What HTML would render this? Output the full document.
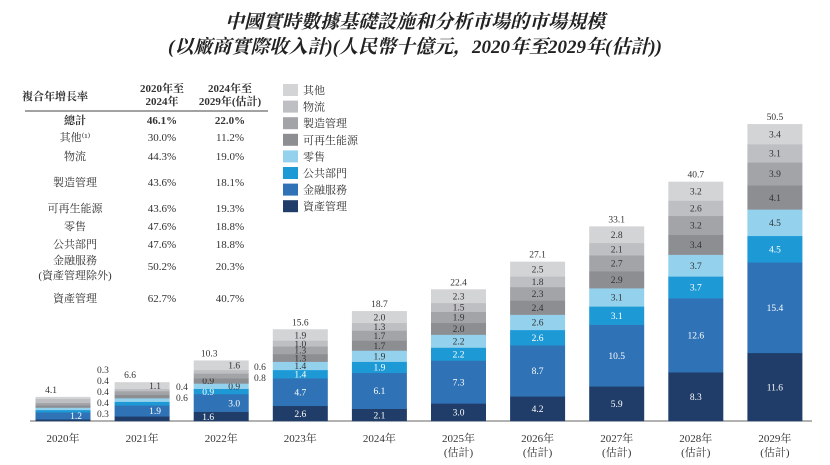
<!DOCTYPE html>
<html><head><meta charset="utf-8"><style>
body{margin:0;background:#fff;width:830px;height:465px;overflow:hidden}
svg{display:block}
text{font-family:"Liberation Serif","Noto Serif CJK SC","Noto Sans CJK TC",serif}
</style></head><body>
<svg id="s" width="830" height="465" xmlns="http://www.w3.org/2000/svg">
<text x="415" y="28" text-anchor="middle" font-size="19" font-weight="bold" font-style="italic" fill="#222">中國實時數據基礎設施和分析市場的市場規模</text>
<text x="415" y="53" text-anchor="middle" font-size="19" font-weight="bold" font-style="italic" fill="#222">(以廠商實際收入計)(人民幣十億元，2020年至2029年(估計))</text>
<g font-size="11" fill="#333">
<text x="55" y="100" text-anchor="middle" font-weight="bold">複合年增長率</text>
<text x="162" y="92" text-anchor="middle" font-weight="bold">2020年至</text>
<text x="162" y="105" text-anchor="middle" font-weight="bold">2024年</text>
<text x="230" y="92" text-anchor="middle" font-weight="bold">2024年至</text>
<text x="230" y="105" text-anchor="middle" font-weight="bold">2029年(估計)</text>
<line x1="25" y1="111" x2="268" y2="111" stroke="#444" stroke-width="1"/>
</g>
<g id="tbl" font-size="11" fill="#333"></g>
<g id="leg" font-size="11" fill="#333"></g>
<line x1="30" y1="421" x2="812" y2="421" stroke="#666" stroke-width="1"/>
<g id="bars"></g>
</svg>
<script>
const NS="http://www.w3.org/2000/svg";
function el(p,t,a,txt){const e=document.createElementNS(NS,t);for(const k in a)e.setAttribute(k,a[k]);if(txt!=null)e.textContent=txt;p.appendChild(e);return e;}
const tb=document.getElementById('tbl');
const rows=[["總計","46.1%","22.0%",124,1],["其他⁽¹⁾","30.0%","11.2%",141],["物流","44.3%","19.0%",160],["製造管理","43.6%","18.1%",186],["可再生能源","43.6%","19.3%",212],["零售","47.6%","18.8%",230],["公共部門","47.6%","18.8%",248],["金融服務","50.2%","20.3%",270],["資產管理","62.7%","40.7%",302]];
rows.forEach(r=>{const fw=r[4]?"bold":"normal";
 if(r[0]=="金融服務"){el(tb,'text',{x:75,y:264,'text-anchor':'middle'},"金融服務");el(tb,'text',{x:75,y:279,'text-anchor':'middle'},"(資產管理除外)");}
 else el(tb,'text',{x:75,y:r[3],'text-anchor':'middle','font-weight':fw},r[0]);
 el(tb,'text',{x:162,y:r[3],'text-anchor':'middle','font-weight':fw},r[1]);
 el(tb,'text',{x:230,y:r[3],'text-anchor':'middle','font-weight':fw},r[2]);});
const cols=["#1f3d68","#2f72b6","#1d9ad6","#93d1ec","#8d8e92","#a3a4a8","#bebfc2","#d3d4d6"];
const names=["資產管理","金融服務","公共部門","零售","可再生能源","製造管理","物流","其他"];
const lg=document.getElementById('leg');
for(let i=0;i<8;i++){const y=84+(7-i)*16.6;el(lg,'rect',{x:283,y:y,width:15,height:12,fill:cols[i]});el(lg,'text',{x:303,y:y+10},names[i]);}
const data=[[0.3,1.2,0.4,0.4,0.4,0.4,0.7,0.3],[0.8,1.9,0.6,0.6,0.6,0.6,0.4,1.1],[1.6,3.0,0.9,0.9,0.9,0.8,0.6,1.6],[2.6,4.7,1.4,1.4,1.3,1.3,1.0,1.9],[2.1,6.1,1.9,1.9,1.7,1.7,1.3,2.0],[3.0,7.3,2.2,2.2,2.0,1.9,1.5,2.3],[4.2,8.7,2.6,2.6,2.4,2.3,1.8,2.5],[5.9,10.5,3.1,3.1,2.9,2.7,2.1,2.8],[8.3,12.6,3.7,3.7,3.4,3.2,2.6,3.2],[11.6,15.4,4.5,4.5,4.1,3.9,3.1,3.4]];
const tot=["4.1","6.6","10.3","15.6","18.7","22.4","27.1","33.1","40.7","50.5"];
const g=document.getElementById('bars');const k=5.88,B=421,W=55;
function lbl(x,y,s,c,fs){el(g,'text',{x:x,y:y,'text-anchor':'middle','font-size':fs||9.5,style:'fill:'+c},s);}
data.forEach((d,j)=>{const cx=63+j*79.1,x=cx-W/2;let y=B;
 d.forEach((v,i)=>{const h=v*k;y-=h;el(g,'rect',{x:x,y:y,width:W,height:h+0.3,fill:cols[i]});
  const c=i<3?'#fff':'#333';
  if(j>=3){lbl(cx,y+h/2+3.5,v.toFixed(1),c);}
  else if(h>=5){const lx=(i%2==0)?cx-13:cx+13;lbl(lx,y+h/2+3.5,v.toFixed(1),c);}
 });
 lbl(cx-(j<3?12:0),y-4,tot[j],'#333');
 lbl(cx,442,(2020+j)+"年",'#333',11);
 if(j>=5)lbl(cx,456,"(估計)",'#333',11);
});
const side=[[ [97,373,"0.3"],[97,384,"0.4"],[97,395,"0.4"],[97,406,"0.4"],[97,417,"0.3"] ],[[176,390,"0.4"],[176,401,"0.6"]],[[254,370,"0.6"],[254,381,"0.8"]]];
side.flat().forEach(s=>el(g,'text',{x:s[0],y:s[1],'font-size':9.5,style:'fill:#333'},s[2]));
</script>
</body></html>
